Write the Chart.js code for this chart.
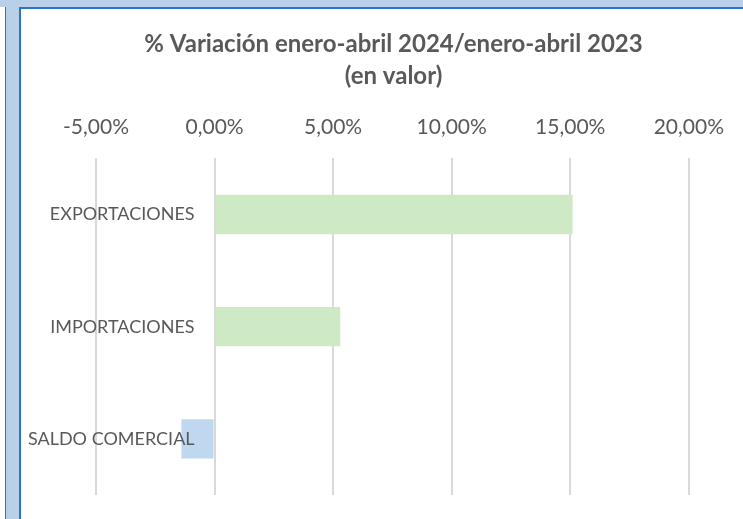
<!DOCTYPE html>
<html lang="es">
<head>
<meta charset="UTF-8">
<title>% Variación enero-abril 2024/enero-abril 2023</title>
<script src="https://cdn.jsdelivr.net/npm/chart.js"></script>
<style>
  body { margin: 0; background: #fff; width: 743px; height: 519px; position: relative; overflow: hidden; }
  .frame-top { position: absolute; left: 0; top: 0; width: 743px; height: 7px; background: #b8d0ea; }
  .frame-top-line { position: absolute; left: 5px; top: 7px; width: 738px; height: 2px; background: #2a75c9; }
  .frame-left { position: absolute; left: 5px; top: 7px; width: 13px; height: 512px; background: #b8d0ea;
                border-left: 1px solid #2a75c9; border-right: 2px solid #2a75c9; }
  #wrap { position: absolute; left: 22px; top: 9px; width: 721px; height: 510px; }
</style>
</head>
<body>
<div class="frame-top"></div>
<div class="frame-top-line"></div>
<div class="frame-left"></div>
<div id="wrap"><canvas id="chart"></canvas></div>
<script>
  const categories = ['EXPORTACIONES', 'IMPORTACIONES', 'SALDO COMERCIAL'];
  const variation = [15.1, 5.3, -1.4];
  const barColors = ['#cdeac4', '#cdeac4', '#c0d7f0'];

  const textColor = '#595959';
  const fontFamily = 'Lato, "Open Sans", sans-serif';

  // labels of the categories sit just left of the 0 line, like in Excel
  const categoryLabels = {
    id: 'categoryLabels',
    afterDatasetsDraw(chart) {
      const { ctx, scales: { x, y } } = chart;
      const right = x.getPixelForValue(0) - 20;
      ctx.save();
      ctx.font = '18px ' + fontFamily;
      ctx.fillStyle = textColor;
      ctx.textAlign = 'right';
      ctx.textBaseline = 'middle';
      categories.forEach((c, i) => ctx.fillText(c, right, y.getPixelForValue(i)));
      ctx.restore();
    }
  };

  new Chart(document.getElementById('chart'), {
    type: 'bar',
    data: {
      labels: categories,
      datasets: [{
        data: variation,
        backgroundColor: barColors,
        borderWidth: 0,
        barPercentage: 0.35,
        categoryPercentage: 1
      }]
    },
    options: {
      indexAxis: 'y',
      responsive: true,
      maintainAspectRatio: false,
      animation: false,
      layout: { padding: { left: 74, right: 52, bottom: 24, top: 0 } },
      plugins: {
        legend: { display: false },
        tooltip: { enabled: false },
        title: {
          display: true,
          text: ['% Variación enero-abril 2024/enero-abril 2023', '(en valor)'],
          color: textColor,
          font: { family: fontFamily, size: 24, weight: 'bold', lineHeight: 1.3 },
          padding: { top: 20, bottom: 0 }
        }
      },
      scales: {
        x: {
          position: 'top',
          min: -5,
          max: 20,
          afterFit: s => { s.height = 67; },
          ticks: {
            stepSize: 5,
            color: textColor,
            padding: 19,
            font: { family: fontFamily, size: 21 },
            callback: v => v.toFixed(2).replace('.', ',') + '%'
          },
          grid: { color: '#d9d9d9', lineWidth: 2, drawTicks: false },
          border: { display: false }
        },
        y: { display: false }
      }
    },
    plugins: [categoryLabels]
  });
</script>
</body>
</html>
